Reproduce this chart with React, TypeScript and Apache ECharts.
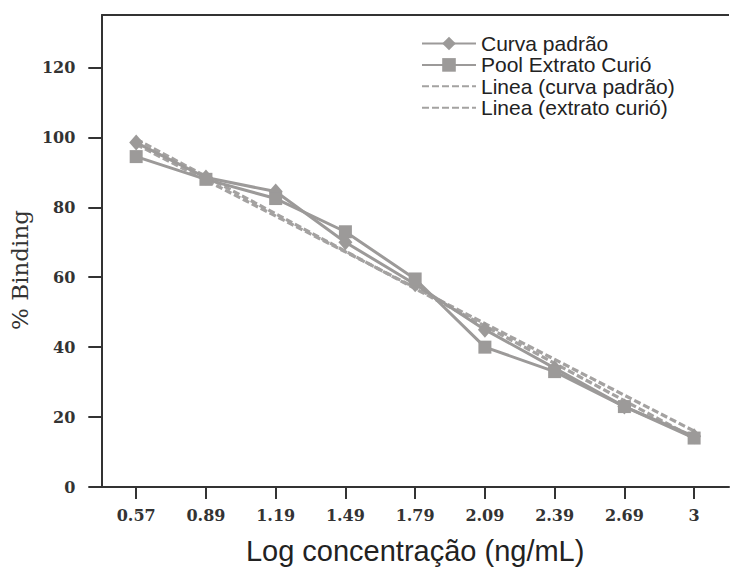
import React, { useEffect, useRef } from "react";
import * as echarts from "echarts";

const categories = ["0.57", "0.89", "1.19", "1.49", "1.79", "2.09", "2.39", "2.69", "3"];
const curvaPadrao = [98.5, 88.5, 84.5, 70, 58, 45, 34, 23, 14.5];
const poolExtrato = [94.5, 88, 82.5, 73, 59.5, 40, 33, 23, 14];
const lineaCurva = [99.5, null, null, null, null, null, null, null, 14];
const lineaExtrato = [98, null, null, null, null, null, null, null, 16];
const yTicks = [0, 20, 40, 60, 80, 100, 120];
const yMax = 135;

const names = ["Curva padrão", "Pool Extrato Curió", "Linea (curva padrão)", "Linea (extrato curió)"];

const SOLID = "#9c9a99";
const DASH = "#a4a2a1";
const AXIS = "#333333";

export default function App() {
  const ref = useRef<HTMLDivElement>(null);
  useEffect(() => {
    if (!ref.current) return;
    const chart = echarts.init(ref.current, undefined, { renderer: "svg" });
    chart.setOption({
      animation: false,
      backgroundColor: "#ffffff",
      grid: { left: 98, right: 7, top: 15, bottom: 79, containLabel: false },
      legend: {
        left: 416,
        top: 28,
        orient: "vertical",
        align: "left",
        itemWidth: 54,
        itemHeight: 17,
        itemGap: 0.4,
        data: names,
        textStyle: { fontFamily: "Liberation Sans", fontSize: 21, color: "#222", lineHeight: 21 },
      },
      xAxis: {
        type: "category",
        data: categories,
        boundaryGap: true,
        position: "bottom",
        axisLine: { show: true, onZero: false, lineStyle: { color: AXIS, width: 2 } },
        axisTick: { show: true, alignWithLabel: true, length: 12, lineStyle: { color: AXIS, width: 2 } },
        axisLabel: {
          margin: 20,
          fontFamily: "DejaVu Serif",
          fontWeight: "bold",
          fontSize: 16,
          color: "#333",
        },
        splitLine: { show: false },
        name: "Log concentração (ng/mL)",
        nameLocation: "middle",
        nameGap: 49,
        nameTextStyle: { fontFamily: "Liberation Sans", fontSize: 29, color: "#222" },
      },
      yAxis: {
        type: "value",
        min: 0,
        max: yMax,
        interval: 20,
        axisLine: { show: true, lineStyle: { color: AXIS, width: 2 } },
        axisTick: { show: true, length: 13, customValues: yTicks, lineStyle: { color: AXIS, width: 2 } },
        axisLabel: {
          margin: 26,
          customValues: yTicks,
          fontFamily: "DejaVu Serif",
          fontWeight: "bold",
          fontSize: 16,
          color: "#333",
        },
        splitLine: { show: false },
        name: "% Binding",
        nameLocation: "middle",
        nameGap: 62,
        nameTextStyle: { fontFamily: "DejaVu Serif", fontSize: 23, color: "#333", padding: [0, 38, 0, 0] },
      },
      series: [
        {
          name: names[2],
          type: "line",
          data: lineaCurva,
          connectNulls: true,
          showSymbol: false,
          symbol: "none",
          lineStyle: { color: DASH, width: 3.2, type: [7, 3] },
          itemStyle: { color: "rgba(0,0,0,0)", borderWidth: 0 },
          z: 2,
          markLine: {
            silent: true,
            symbol: ["none", "none"],
            label: { show: false },
            lineStyle: { color: AXIS, width: 2, type: "solid" },
            data: [{ yAxis: yMax }],
          },
        },
        {
          name: names[3],
          type: "line",
          data: lineaExtrato,
          connectNulls: true,
          showSymbol: false,
          symbol: "none",
          lineStyle: { color: DASH, width: 3.2, type: [7, 3] },
          itemStyle: { color: "rgba(0,0,0,0)", borderWidth: 0 },
          z: 2,
        },
        {
          name: names[0],
          type: "line",
          data: curvaPadrao,
          symbol: "diamond",
          symbolSize: [14, 16],
          lineStyle: { color: SOLID, width: 3 },
          itemStyle: { color: SOLID },
          z: 3,
        },
        {
          name: names[1],
          type: "line",
          data: poolExtrato,
          symbol: "rect",
          symbolSize: 13,
          lineStyle: { color: SOLID, width: 3 },
          itemStyle: { color: SOLID },
          z: 3,
        },
      ],
    });
    return () => chart.dispose();
  }, []);
  return <div ref={ref} style={{ width: 736, height: 570, position: "absolute", left: 0, top: 0 }} />;
}
